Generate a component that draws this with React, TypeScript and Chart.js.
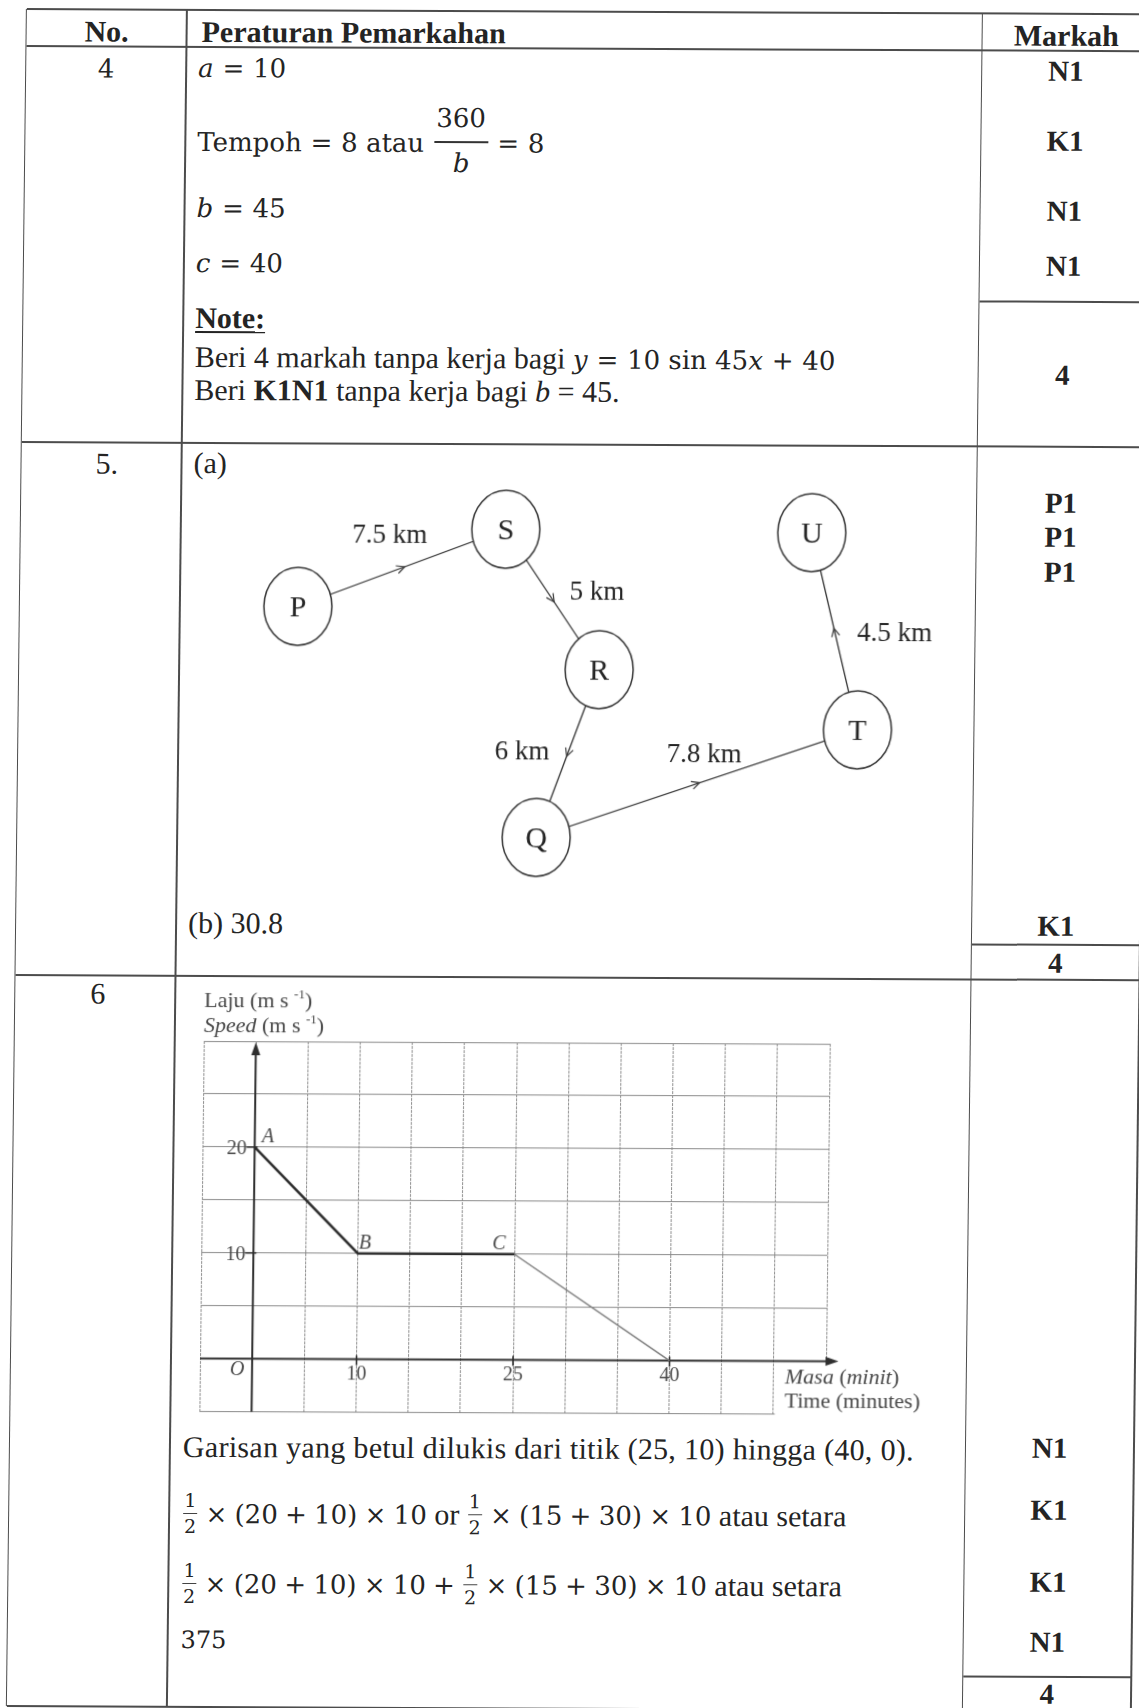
import React, { useEffect, useRef } from 'react';
import { Chart, registerables } from 'chart.js';

Chart.register(...registerables);

// ===== Soalan 6: graf laju-masa =====
const timeMinutes = [0, 10, 25, 40];
const speedMs = [20, 10, 10, 0];
const pointNames = ['A', 'B', 'C', ''];
const timeTicks = [10, 25, 40];
const speedTicks = [10, 20];
const timeMin = -5;
const timeMax = 55;
const speedMin = -5;
const speedMax = 30;
const gridStep = 5;

// ===== Soalan 5: rangkaian P-S-R-Q-T-U =====
const nodeNames = ['P', 'S', 'R', 'Q', 'T', 'U'];
const nodeX = [11.5, 32.2, 41.7, 35.6, 67.6, 62.8];
const nodeY = [29.0, 36.8, 22.8, 6.0, 16.9, 36.6];
const edgeNames = ['7.5 km', '5 km', '6 km', '7.8 km', '4.5 km'];
const edgeLabelX = [20.6, 41.4, 34.1, 52.3, 71.2];
const edgeLabelY = [36.3, 30.7, 14.7, 14.5, 26.7];

const SERIF = '"Liberation Serif", "Times New Roman", serif';
const MATH = '"DejaVu Serif", serif';
const MATH_SIZE = 26;
const INK = '#242424';
const LINE = '#4c4c4c';

type Run = [string, string, number];

function drawRuns(ctx: CanvasRenderingContext2D, x: number, baseline: number, runs: Run[]) {
  ctx.textAlign = 'left';
  ctx.textBaseline = 'alphabetic';
  let cx = x;
  for (const [t, f, dy] of runs) {
    ctx.font = f;
    ctx.fillText(t, cx, baseline + dy);
    cx += ctx.measureText(t).width;
  }
}

function SpeedChart() {
  const ref = useRef<HTMLCanvasElement>(null);
  useEffect(() => {
    const canvas = ref.current;
    if (!canvas) return;
    const pts = timeMinutes.map((t, i) => ({ x: t, y: speedMs[i] }));
    const decor = {
      id: 'speedDecor',
      beforeDatasetsDraw(chart: any) {
        const { ctx, chartArea: a } = chart;
        const x = chart.scales.x;
        const y = chart.scales.y;
        const x0 = x.getPixelForValue(0);
        const y0 = y.getPixelForValue(0);
        ctx.save();
        // lower-right cell left open for the axis title
        ctx.fillStyle = '#ffffff';
        const xl = x.getPixelForValue(50) + 1.5;
        ctx.fillRect(xl, y0 + 2, a.right + 6 - xl, a.bottom + 6 - (y0 + 2));
        ctx.strokeStyle = '#2e2e2e';
        ctx.fillStyle = '#2e2e2e';
        ctx.lineWidth = 2;
        // x axis with arrow
        const xTip = x.getPixelForValue(56.2);
        ctx.beginPath();
        ctx.moveTo(a.left, y0);
        ctx.lineTo(xTip - 8, y0);
        ctx.stroke();
        ctx.beginPath();
        ctx.moveTo(xTip, y0);
        ctx.lineTo(xTip - 13, y0 - 4.5);
        ctx.lineTo(xTip - 13, y0 + 4.5);
        ctx.closePath();
        ctx.fill();
        // y axis with arrow
        const yTip = a.top + 1;
        ctx.beginPath();
        ctx.moveTo(x0, a.bottom);
        ctx.lineTo(x0, yTip + 8);
        ctx.stroke();
        ctx.beginPath();
        ctx.moveTo(x0, yTip);
        ctx.lineTo(x0 - 4.5, yTip + 13);
        ctx.lineTo(x0 + 4.5, yTip + 13);
        ctx.closePath();
        ctx.fill();
        // tick marks
        ctx.lineWidth = 1.6;
        for (const v of speedTicks) {
          const py = y.getPixelForValue(v);
          ctx.beginPath();
          ctx.moveTo(x0 - 8, py);
          ctx.lineTo(x0 + 3, py);
          ctx.stroke();
        }
        for (const v of timeTicks) {
          const px = x.getPixelForValue(v);
          ctx.beginPath();
          ctx.moveTo(px, y0 - 4);
          ctx.lineTo(px, y0 + 6);
          ctx.stroke();
        }
        ctx.restore();
      },
      afterDatasetsDraw(chart: any) {
        const { ctx, chartArea: a } = chart;
        const x = chart.scales.x;
        const y = chart.scales.y;
        const x0 = x.getPixelForValue(0);
        const y0 = y.getPixelForValue(0);
        ctx.save();
        ctx.fillStyle = '#474747';
        const f20 = `20px ${SERIF}`;
        const i20 = `italic 20px ${SERIF}`;
        ctx.textBaseline = 'alphabetic';
        for (const v of speedTicks) {
          ctx.font = f20;
          ctx.textAlign = 'right';
          ctx.fillText(String(v), x0 - 8, y.getPixelForValue(v) + 7);
        }
        for (const v of timeTicks) {
          ctx.font = f20;
          ctx.textAlign = 'center';
          ctx.fillText(String(v), x.getPixelForValue(v), y0 + 13.5 + 7);
        }
        ctx.font = i20;
        ctx.textAlign = 'center';
        ctx.fillText('O', x0 - 15, y0 + 9 + 7);
        // point names
        const offs: [number, number][] = [[7, -12], [1, -12], [-22, -12], [0, 0]];
        pointNames.forEach((n, i) => {
          if (!n) return;
          ctx.font = i20;
          ctx.textAlign = 'left';
          ctx.fillText(n, x.getPixelForValue(timeMinutes[i]) + offs[i][0], y.getPixelForValue(speedMs[i]) + offs[i][1] + 7);
        });
        // axis titles
        const n22 = `22px ${SERIF}`;
        const it22 = `italic 22px ${SERIF}`;
        const sup = `13px ${SERIF}`;
        const xs = x.getPixelForValue(51.07);
        drawRuns(ctx, xs, y0 + 15.6 + 7.3, [['Masa', it22, 0], [' (', n22, 0], ['minit', it22, 0], [')', n22, 0]]);
        drawRuns(ctx, xs, y0 + 38.9 + 7.3, [['Time (minutes)', n22, 0]]);
        drawRuns(ctx, a.left, a.top - 41 + 7.3, [['Laju (m s ', n22, 0], ['-1', sup, -9], [')', n22, 0]]);
        drawRuns(ctx, a.left, a.top - 16 + 7.3, [['Speed', it22, 0], [' (m s ', n22, 0], ['-1', sup, -9], [')', n22, 0]]);
        ctx.restore();
      },
    };
    const chart = new Chart(canvas, {
      type: 'scatter',
      data: {
        datasets: [
          { data: pts.slice(0, 3), showLine: true, borderColor: '#2a2a2a', borderWidth: 2.5, pointRadius: 0, fill: false },
          { data: pts.slice(2, 4), showLine: true, borderColor: '#787878', borderWidth: 1.4, pointRadius: 0, fill: false },
        ],
      },
      options: {
        animation: false,
        responsive: false,
        maintainAspectRatio: false,
        events: [],
        layout: { autoPadding: false, padding: { left: 26, right: 108, top: 55, bottom: 14.5 } },
        plugins: { legend: { display: false }, tooltip: { enabled: false } },
        scales: {
          x: {
            type: 'linear', min: timeMin, max: timeMax,
            ticks: { display: false, stepSize: gridStep },
            grid: { color: '#8e8e8e', lineWidth: 1, drawTicks: false },
            border: { display: false, dash: [3, 1] },
          },
          y: {
            type: 'linear', min: speedMin, max: speedMax,
            ticks: { display: false, stepSize: gridStep },
            grid: { color: '#8a8a8a', lineWidth: 1, drawTicks: false },
            border: { display: false },
          },
        },
      },
      plugins: [decor],
    } as any);
    return () => chart.destroy();
  }, []);
  return <canvas ref={ref} width={760} height={440} style={{ position: 'absolute', left: 190, top: 985, width: 760, height: 440 }} />;
}

function NetworkChart() {
  const ref = useRef<HTMLCanvasElement>(null);
  useEffect(() => {
    const canvas = ref.current;
    if (!canvas) return;
    const ell = document.createElement('canvas');
    ell.width = 74;
    ell.height = 82;
    const ec = ell.getContext('2d')!;
    ec.beginPath();
    ec.ellipse(37, 41, 34, 39, 0, 0, Math.PI * 2);
    ec.fillStyle = '#ffffff';
    ec.fill();
    ec.strokeStyle = '#333333';
    ec.lineWidth = 1.5;
    ec.stroke();
    const pts = nodeX.map((v, i) => ({ x: v, y: nodeY[i] }));
    const decor = {
      id: 'netDecor',
      afterDatasetsDraw(chart: any) {
        const { ctx } = chart;
        const x = chart.scales.x;
        const y = chart.scales.y;
        const px = nodeX.map((v) => x.getPixelForValue(v));
        const py = nodeY.map((v) => y.getPixelForValue(v));
        ctx.save();
        ctx.strokeStyle = '#3a3a3a';
        ctx.lineWidth = 1.2;
        for (let i = 0; i < px.length - 1; i++) {
          const dx = px[i + 1] - px[i];
          const dy = py[i + 1] - py[i];
          const len = Math.hypot(dx, dy);
          const ux = dx / len;
          const uy = dy / len;
          const tx = (px[i] + px[i + 1]) / 2 + 3 * ux;
          const ty = (py[i] + py[i + 1]) / 2 + 3 * uy;
          ctx.beginPath();
          ctx.moveTo(tx - 8 * ux - 4 * uy, ty - 8 * uy + 4 * ux);
          ctx.lineTo(tx, ty);
          ctx.lineTo(tx - 8 * ux + 4 * uy, ty - 8 * uy - 4 * ux);
          ctx.stroke();
        }
        ctx.fillStyle = INK;
        ctx.textAlign = 'center';
        ctx.textBaseline = 'alphabetic';
        ctx.font = `30px ${SERIF}`;
        nodeNames.forEach((n, i) => ctx.fillText(n, px[i], py[i] + 10));
        ctx.font = `27px ${SERIF}`;
        edgeNames.forEach((n, i) => ctx.fillText(n, x.getPixelForValue(edgeLabelX[i]), y.getPixelForValue(edgeLabelY[i]) + 9));
        ctx.restore();
      },
    };
    const chart = new Chart(canvas, {
      type: 'scatter',
      data: {
        datasets: [
          { data: pts, pointStyle: ell, pointRadius: 36, showLine: false, clip: false },
          { data: pts, showLine: true, borderColor: '#333333', borderWidth: 1.3, pointRadius: 0, clip: false },
        ],
      },
      options: {
        animation: false,
        responsive: false,
        maintainAspectRatio: false,
        events: [],
        layout: { autoPadding: false, padding: 0 },
        plugins: { legend: { display: false }, tooltip: { enabled: false } },
        scales: {
          x: { type: 'linear', min: 0, max: 78, display: false },
          y: { type: 'linear', min: 0, max: 42, display: false },
        },
      },
      plugins: [decor],
    } as any);
    return () => chart.destroy();
  }, []);
  return <canvas ref={ref} width={780} height={420} style={{ position: 'absolute', left: 190, top: 475, width: 780, height: 420 }} />;
}

type TxtProps = {
  x: number; cy: number; size?: number; w?: number; center?: boolean; bold?: boolean;
  font?: string; children?: React.ReactNode; style?: React.CSSProperties;
};

function Txt({ x, cy, size = 30, w = 160, center, bold, font = SERIF, children, style }: TxtProps) {
  const s: React.CSSProperties = {
    position: 'absolute',
    top: cy - size / 2,
    left: center ? x - w / 2 : x,
    width: center ? w : undefined,
    textAlign: center ? 'center' : 'left',
    whiteSpace: 'nowrap',
    fontFamily: font,
    fontSize: size,
    lineHeight: `${size}px`,
    fontWeight: bold ? 'bold' : 'normal',
    color: INK,
    ...style,
  };
  return <div style={s}>{children}</div>;
}

const Op = ({ c, m = 0.34 }: { c: string; m?: number }) => <span style={{ margin: `0 ${m}em` }}>{c}</span>;
const Fo = ({ c }: { c: string }) => <Op c={c} m={0.28} />;
const M = ({ children }: { children: React.ReactNode }) => (
  <span style={{ fontFamily: MATH, fontSize: MATH_SIZE }}>{children}</span>
);
const Half = () => (
  <span style={{ display: 'inline-flex', flexDirection: 'column', alignItems: 'center', verticalAlign: 'middle', fontFamily: MATH, fontSize: 19, lineHeight: '19px', margin: '0 1px', position: 'relative', top: -3 }}>
    <span style={{ borderBottom: '1px solid #444', padding: '0 1px 3px' }}>1</span>
    <span style={{ paddingTop: 3 }}>2</span>
  </span>
);

const MARK_CX = 1066.75;
const Mark = ({ cy, children }: { cy: number; children: React.ReactNode }) => (
  <Txt x={MARK_CX} cy={cy} center w={160} bold size={29}>{children}</Txt>
);

const HLine = ({ y, x1, x2, t = 2 }: { y: number; x1: number; x2: number; t?: number }) => (
  <div style={{ position: 'absolute', left: x1, top: y - t / 2, width: x2 - x1, height: t, background: LINE }} />
);
const VLine = ({ x, y1, y2, t = 1.6 }: { x: number; y1: number; y2: number; t?: number }) => (
  <div style={{ position: 'absolute', left: x - t / 2, top: y1, width: t, height: y2 - y1, background: LINE }} />
);

const L = 26.5;
const C1 = 187;
const C2 = 982.5;
const R = 1151;
const TOP = 9;
const BOT = 1706;

export default function App() {
  return (
    <div style={{ position: 'absolute', left: 0, top: 0, width: 1139, height: 1708, overflow: 'hidden', background: '#ffffff' }}>
      <div style={{ position: 'absolute', left: 0, top: 0, width: 1139, height: 1708, transformOrigin: '0 0', transform: 'matrix(1, 0.0045, -0.0118, 1, 0, 0)' }}>
        {/* table rules */}
        <HLine y={TOP} x1={L} x2={R} />
        <HLine y={45.5} x1={L} x2={R} />
        <HLine y={441.6} x1={L} x2={R} />
        <HLine y={974.7} x1={L} x2={R} />
        <HLine y={BOT} x1={L} x2={R} />
        <HLine y={297} x1={C2} x2={R} />
        <HLine y={940} x1={C2} x2={R} />
        <HLine y={1672} x1={C2} x2={R} />
        <VLine x={L} y1={TOP} y2={BOT} />
        <VLine x={C1} y1={TOP} y2={BOT} />
        <VLine x={C2} y1={TOP} y2={BOT} />
        <VLine x={R} y1={TOP} y2={BOT} />

        {/* header */}
        <Txt x={107} cy={31.2} center w={160} bold>No.</Txt>
        <Txt x={202} cy={30.8} bold>Peraturan Pemarkahan</Txt>
        <Txt x={MARK_CX} cy={30.5} center w={168} bold>Markah</Txt>

        {/* question 4 */}
        <Txt x={107} cy={67.8} center w={160} size={MATH_SIZE} font={MATH}>4</Txt>
        <Txt x={199} cy={67.4} size={MATH_SIZE} font={MATH}><i>a</i><Op c="=" />10</Txt>
        <Txt x={199} cy={140.8} size={MATH_SIZE} font={MATH}>Tempoh<Op c="=" />8 atau</Txt>
        <Txt x={462.5} cy={116.2} center w={80} size={MATH_SIZE} font={MATH}>360</Txt>
        <div style={{ position: 'absolute', left: 436, top: 139, width: 54, height: 1.6, background: '#333' }} />
        <Txt x={463} cy={161} center w={40} size={MATH_SIZE} font={MATH}><i>b</i></Txt>
        <Txt x={499} cy={140.8} size={MATH_SIZE} font={MATH}>=<span style={{ marginLeft: '0.34em' }}>8</span></Txt>
        <Txt x={199} cy={207.4} size={MATH_SIZE} font={MATH}><i>b</i><Op c="=" />45</Txt>
        <Txt x={199} cy={262.4} size={MATH_SIZE} font={MATH}><i>c</i><Op c="=" />40</Txt>
        <Txt x={199} cy={317.4} bold>
          <span style={{ textDecoration: 'underline', textDecorationThickness: 2, textUnderlineOffset: 3 }}>Note:</span>
        </Txt>
        <Txt x={199} cy={355.8}>
          Beri 4 markah tanpa kerja bagi <M><i>y</i><Op c="=" />10 sin 45<i>x</i><Op c="+" />40</M>
        </Txt>
        <Txt x={199} cy={389.1}>
          Beri <b>K1N1</b> tanpa kerja bagi <i>b</i> = 45.
        </Txt>
        <Mark cy={66.9}>N1</Mark>
        <Mark cy={136.9}>K1</Mark>
        <Mark cy={206.9}>N1</Mark>
        <Mark cy={261.9}>N1</Mark>
        <Mark cy={370.2}>4</Mark>

        {/* question 5 */}
        <Txt x={101} cy={463}>5.</Txt>
        <Txt x={199} cy={462.4}>(a)</Txt>
        <NetworkChart />
        <Txt x={199} cy={922.1}>(b) 30.8</Txt>
        <Mark cy={498.9}>P1</Mark>
        <Mark cy={532.2}>P1</Mark>
        <Mark cy={567.2}>P1</Mark>
        <Mark cy={921.7}>K1</Mark>
        <Mark cy={958.2}>4</Mark>

        {/* question 6 */}
        <Txt x={102} cy={992.6}>6</Txt>
        <SpeedChart />
        <Txt x={200} cy={1445.9} style={{ letterSpacing: '0.3px' }}>Garisan yang betul dilukis dari titik (25, 10) hingga (40, 0).</Txt>
        <Txt x={200} cy={1507.5}>
          <M><Half /><Fo c="×" />(20<Fo c="+" />10)<Fo c="×" />10</M> or <M><Half /><Fo c="×" />(15<Fo c="+" />30)<Fo c="×" />10</M> atau setara
        </Txt>
        <Txt x={200} cy={1577.5}>
          <M><Half /><Fo c="×" />(20<Fo c="+" />10)<Fo c="×" />10<Fo c="+" /><Half /><Fo c="×" />(15<Fo c="+" />30)<Fo c="×" />10</M> atau setara
        </Txt>
        <Txt x={200} cy={1639} size={24} font={MATH}>375</Txt>
        <Mark cy={1443.3}>N1</Mark>
        <Mark cy={1505.3}>K1</Mark>
        <Mark cy={1577.3}>K1</Mark>
        <Mark cy={1637.5}>N1</Mark>
        <Mark cy={1689.5}>4</Mark>
      </div>
    </div>
  );
}
